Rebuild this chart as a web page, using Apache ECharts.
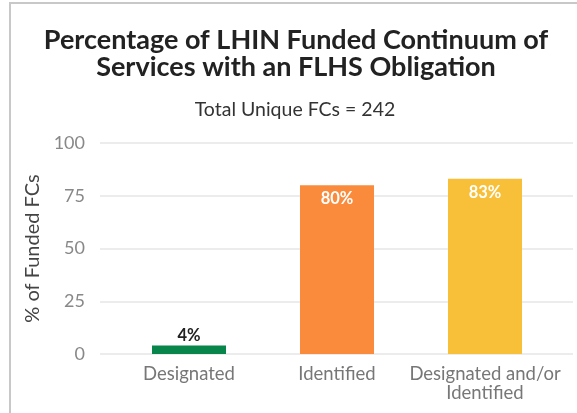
<!DOCTYPE html>
<html><head><meta charset="utf-8">
<script src="https://cdn.jsdelivr.net/npm/echarts@6/dist/echarts.min.js"></script>
<style>html,body{margin:0;padding:0;background:#fff}#c{width:577px;height:413px}</style>
</head><body><div id="c"></div>
<script>
const categories = ['Designated', 'Identified', 'Designated and/or\nIdentified'];
const values = [4, 80, 83];
const barColors = ['#07854b', '#fa8b3c', '#f8bf38'];
const yTicks = [0, 25, 50, 75, 100];

const chart = echarts.init(document.getElementById('c'));
const font = 'Lato, "Open Sans", sans-serif';
chart.setOption({
  animation: false,
  backgroundColor: '#fff',
  title: [{
    text: 'Percentage of LHIN Funded Continuum of\nServices with an FLHS Obligation',
    left: 291, top: 22, textAlign: 'center',
    textStyle: { fontFamily: font, fontSize: 27, fontWeight: 'bold', color: '#222', lineHeight: 27 }
  }, {
    text: 'Total Unique FCs = 242',
    left: 290, top: 95, textAlign: 'center',
    textStyle: { fontFamily: font, fontSize: 19.5, fontWeight: 'normal', color: '#333' }
  }],
  graphic: [{
    type: 'polyline', shape: { points: [[10, 413], [10, 3], [577, 3]] },
    style: { stroke: '#c8c8c8', lineWidth: 2, fill: null }, silent: true
  }],
  grid: [
    { left: 100, right: 4, top: 143, bottom: 59 },
    { left: 115, right: 18, top: 143, bottom: 59 }
  ],
  xAxis: [
    { type: 'category', gridIndex: 0, data: categories, show: false },
    { type: 'category', gridIndex: 1, data: categories,
      axisLine: { show: false }, axisTick: { show: false },
      axisLabel: { fontFamily: font, fontSize: 18.5, color: '#777', margin: 11, lineHeight: 19, interval: 0 } }
  ],
  yAxis: [
    { type: 'value', gridIndex: 0, min: yTicks[0], max: yTicks[yTicks.length - 1], interval: 25,
      name: '% of Funded FCs', nameLocation: 'middle', nameGap: 42,
      nameTextStyle: { fontFamily: font, fontSize: 20, color: '#444' },
      axisLine: { show: false }, axisTick: { show: false },
      axisLabel: { fontFamily: font, fontSize: 18, color: '#888', margin: 15 },
      splitLine: { lineStyle: { color: '#e6e6e6', width: 1.5 } } },
    { type: 'value', gridIndex: 1, min: 0, max: 100, interval: 25, show: false, splitLine: { show: false } }
  ],
  series: [{
    type: 'bar', xAxisIndex: 1, yAxisIndex: 1, barWidth: 74,
    data: values.map((v, i) => ({
      value: v,
      itemStyle: { color: barColors[i] },
      label: v < 10
        ? { show: true, position: 'top', color: '#222', distance: 1 }
        : { show: true, position: 'insideTop', color: '#fff', distance: 5 }
    })),
    label: { fontFamily: font, fontSize: 16.5, fontWeight: 'bold', formatter: p => p.value + '%' }
  }]
});
</script></body></html>
